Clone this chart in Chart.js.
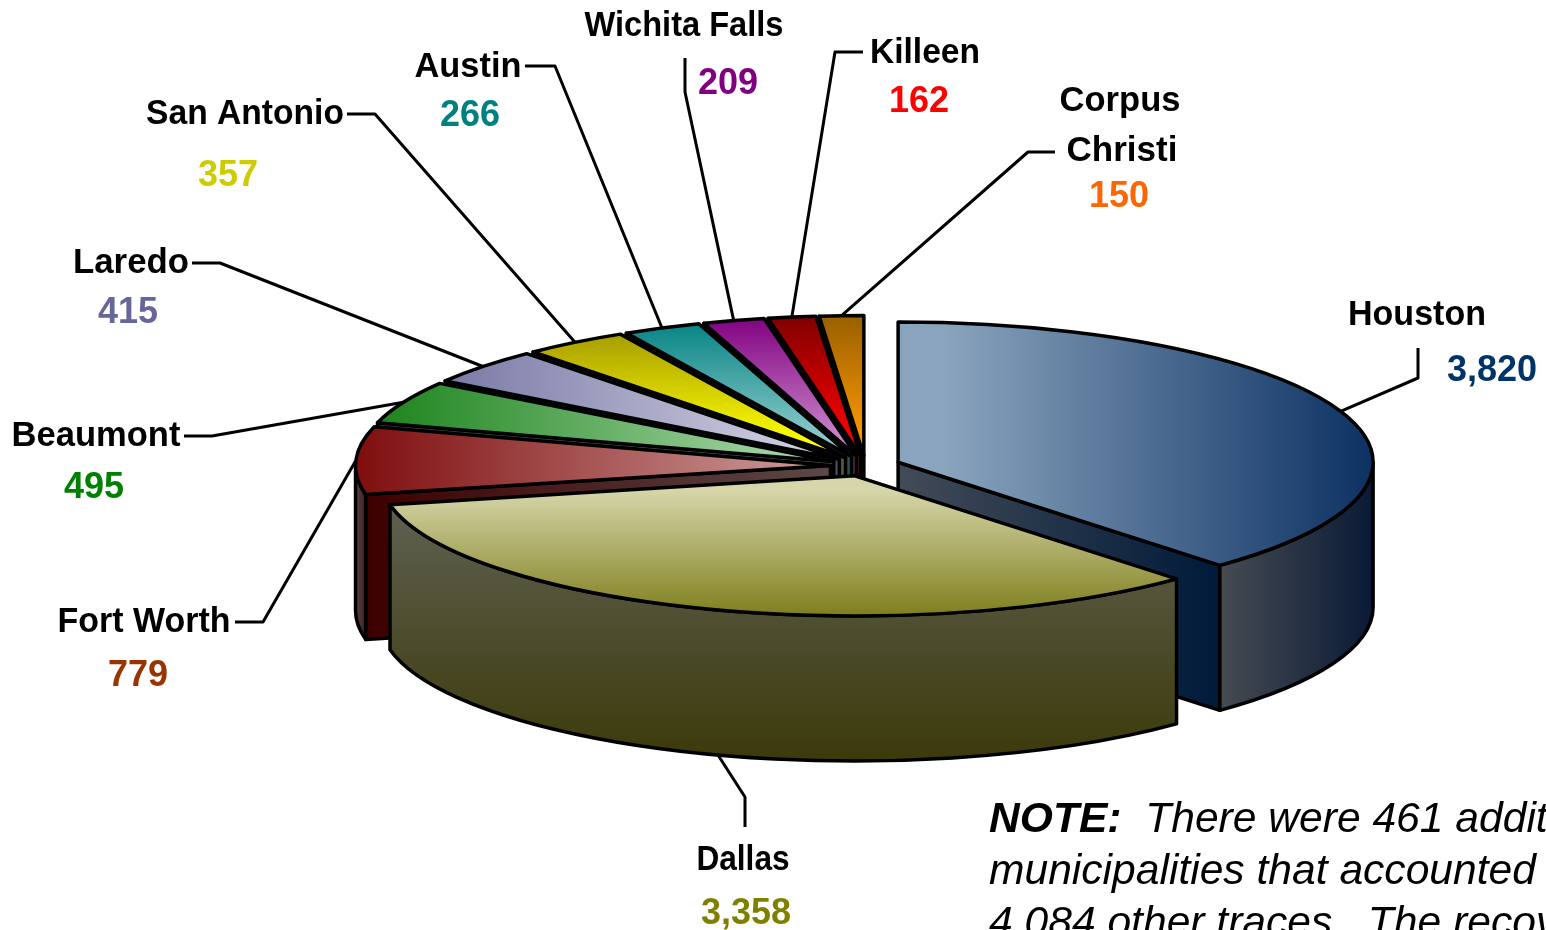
<!DOCTYPE html>
<html>
<head>
<meta charset="utf-8">
<title>Traces by municipality</title>
<script src="https://cdn.jsdelivr.net/npm/chart.js@4"></script>
<style>
    html, body { margin: 0; padding: 0; background: #fff; overflow: hidden; }
    canvas { display: block; }
</style>
</head>
<body>
<canvas id="chart" width="1546" height="930"></canvas>
<script>
const cities = ['Houston', 'Dallas', 'Fort Worth', 'Beaumont', 'Laredo', 'San Antonio', 'Austin', 'Wichita Falls', 'Killeen', 'Corpus Christi'];
const traces = [3820, 3358, 779, 495, 415, 357, 266, 209, 162, 150];
const valueLabels = ['3,820', '3,358', '779', '495', '415', '357', '266', '209', '162', '150'];
const valueColors = ['#003366', '#808000', '#993300', '#008000', '#666699', '#cccc00', '#008080', '#800080', '#ff0000', '#ff6600'];

// pseudo 3D look: pie squashed vertically, every slice pulled out, side walls below
const RADIUS = 475;
const SQUASH = 0.295;
const EXPLODE = 35;
const DEPTH = 145;
const LINE = 3.5;

// top face gradient: direction and colours (dark outer end, light inner end)
const topAxis = ['right', 'down', 'left', 'left', 'left', 'up', 'up', 'up', 'up', 'up'];
const topOuter = ['#0c3162', '#7f7f1e', '#7f0e0e', '#178017', '#66669a', '#998f00', '#008080', '#800080', '#800000', '#996000'];
const topInner = ['#8aa4be', '#d6d6aa', '#c89090', '#a4d4a4', '#ccccdf', '#ffff00', '#90cccc', '#cc88cc', '#ff0000', '#ff9900'];
// side colours: radial cut face and outer wall
const faceColors = [['#434b57', '#001a3a'], null, ['#3d0000', '#5c4848'], ['#3a4a3a', '#4a5a4a'], ['#44445c', '#55556a'], ['#4a4a20', '#555533'], ['#1f4a4a', '#2a5555'], ['#4a204a', '#553355'], ['#4a1010', '#552222'], ['#4a3000', '#553a11']];
const wallColors = [['#464b52', '#0a1a35'], ['#5f6052', '#3c3a0a'], ['#5e4044', '#3a2020'], null, null, null, null, null, null, null];
// back to front, so Dallas ends up on top of its neighbours
const drawOrder = [9, 8, 7, 6, 5, 4, 3, 2, 0, 1];

// label boxes: [text, centre x, baseline y, width]
const nameLabels = [
    [['Houston', 1417, 325, 138]],
    [['Dallas', 743, 870, 93]],
    [['Fort Worth', 144, 632, 173]],
    [['Beaumont', 96, 446, 169]],
    [['Laredo', 131, 273, 116]],
    [['San Antonio', 245, 124, 198]],
    [['Austin', 468, 77, 107]],
    [['Wichita Falls', 684, 36, 199]],
    [['Killeen', 925, 63, 110]],
    [['Corpus', 1120, 111, 121], ['Christi', 1122, 161, 112]]
];
const valuePositions = [[1492, 381], [746, 924], [138, 686], [94, 498], [128, 323], [228, 186], [470, 126], [728, 94], [919, 112], [1119, 207]];
// leader lines: the elbows, the first point comes from the slice itself
const leaderElbows = [
    [[1418, 378], [1418, 348]],
    [[745, 797], [745, 827]],
    [[263, 622], [235, 622]],
    [[212, 436], [184, 436]],
    [[220, 263], [192, 263]],
    [[375, 114], [347, 114]],
    [[555, 66], [525, 66]],
    [[685, 92], [685, 58]],
    [[835, 52], [863, 52]],
    [[1028, 152], [1055, 152]]
];
const leaderNudge = [0, -1, 0, 0, 0, 0, 0, 0, 0, 0];

const noteLines = [
    [['NOTE:', 'italic bold'], ['  There were 461 additional', 'italic']],
    [['municipalities that accounted for', 'italic']],
    [['4,084 other traces.  The recovery', 'italic']]
];
const noteBaselines = [832, 884, 936];

function sliceGradient(context) {
    if (context.dataIndex === undefined) return '#000';
    const chart = context.chart;
    const area = chart.chartArea;
    if (!area) return topInner[context.dataIndex];
    const cx = (area.left + area.right) / 2;
    const cy = (area.top + area.bottom) / 2;
    const i = context.dataIndex;
    let g;
    if (topAxis[i] === 'right') g = chart.ctx.createLinearGradient(cx + RADIUS, cy, cx, cy);
    else if (topAxis[i] === 'left') g = chart.ctx.createLinearGradient(cx - RADIUS, cy, cx, cy);
    else if (topAxis[i] === 'down') g = chart.ctx.createLinearGradient(cx, cy + RADIUS, cx, cy);
    else g = chart.ctx.createLinearGradient(cx, cy - RADIUS, cx, cy);
    g.addColorStop(0, topOuter[i]);
    g.addColorStop(0.9, topInner[i]);
    g.addColorStop(1, topInner[i]);
    return g;
}

// apex of a slice on screen, after the explosion
function sliceOrigin(arc) {
    const mid = (arc.startAngle + arc.endAngle) / 2;
    return {
        x: arc.x + Math.cos(mid) * EXPLODE,
        y: arc.y + Math.sin(mid) * EXPLODE * SQUASH
    };
}

function rimPoint(arc, angle, drop) {
    const o = sliceOrigin(arc);
    return {
        x: o.x + Math.cos(angle) * arc.outerRadius,
        y: o.y + Math.sin(angle) * arc.outerRadius * SQUASH + (drop || 0)
    };
}

function horizontalFill(ctx, from, to, colors) {
    const g = ctx.createLinearGradient(from, 0, to, 0);
    g.addColorStop(0, colors[0]);
    g.addColorStop(1, colors[1]);
    return g;
}

function finishShape(ctx, fill) {
    ctx.closePath();
    ctx.fillStyle = fill;
    ctx.fill();
    ctx.stroke();
}

function drawCutFace(ctx, arc, angle, colors) {
    const o = sliceOrigin(arc);
    const p = rimPoint(arc, angle);
    ctx.beginPath();
    ctx.moveTo(o.x, o.y);
    ctx.lineTo(p.x, p.y);
    ctx.lineTo(p.x, p.y + DEPTH);
    ctx.lineTo(o.x, o.y + DEPTH);
    finishShape(ctx, horizontalFill(ctx, Math.min(o.x, p.x), Math.max(o.x, p.x), colors));
}

function drawOuterWall(ctx, arc, index) {
    const a0 = Math.max(arc.startAngle, 0);
    const a1 = Math.min(arc.endAngle, Math.PI);
    if (a1 <= a0 || !wallColors[index]) return;
    const o = sliceOrigin(arc);
    const ry = arc.outerRadius * SQUASH;
    ctx.beginPath();
    ctx.ellipse(o.x, o.y, arc.outerRadius, ry, 0, a0, a1);
    ctx.ellipse(o.x, o.y + DEPTH, arc.outerRadius, ry, 0, a1, a0, true);
    let fill;
    if (index === 1) {
        fill = ctx.createLinearGradient(0, o.y + ry * 0.2, 0, o.y + ry + DEPTH);
        fill.addColorStop(0, wallColors[index][0]);
        fill.addColorStop(1, wallColors[index][1]);
    } else {
        const xs = [rimPoint(arc, a0).x, rimPoint(arc, a1).x];
        fill = horizontalFill(ctx, Math.min(...xs), Math.max(...xs), wallColors[index]);
    }
    finishShape(ctx, fill);
}

function drawTop(ctx, arc) {
    const o = sliceOrigin(arc);
    ctx.save();
    ctx.translate(o.x, o.y);
    ctx.scale(1, SQUASH);
    ctx.translate(-arc.x, -arc.y);
    arc.draw(ctx);
    // outline is stroked after restore, so the line keeps one width all around
    ctx.beginPath();
    ctx.moveTo(arc.x, arc.y);
    ctx.arc(arc.x, arc.y, arc.outerRadius, arc.startAngle, arc.endAngle);
    ctx.closePath();
    ctx.restore();
    ctx.stroke();
}

const fakePie3d = {
    id: 'fakePie3d',
    beforeDatasetDraw(chart) {
        const ctx = chart.ctx;
        const arcs = chart.getDatasetMeta(0).data;
        ctx.save();
        ctx.strokeStyle = '#000';
        ctx.lineJoin = 'round';

        // leader lines go first so the slice outline covers their start
        ctx.lineWidth = 3;
        arcs.forEach((arc, i) => {
            const mid = (arc.startAngle + arc.endAngle) / 2 + leaderNudge[i] * Math.PI / 180;
            const start = rimPoint(arc, mid, i === 1 ? DEPTH : 0);
            ctx.beginPath();
            ctx.moveTo(start.x, start.y);
            leaderElbows[i].forEach(p => ctx.lineTo(p[0], p[1]));
            ctx.stroke();
        });

        ctx.lineWidth = LINE;
        drawOrder.forEach(i => {
            const arc = arcs[i];
            if (faceColors[i]) {
                if (Math.cos(arc.startAngle) < 0) drawCutFace(ctx, arc, arc.startAngle, faceColors[i]);
                if (Math.cos(arc.endAngle) > 0) drawCutFace(ctx, arc, arc.endAngle, faceColors[i]);
            }
            drawOuterWall(ctx, arc, i);
        });
        drawOrder.forEach(i => drawTop(ctx, arcs[i]));
        ctx.restore();
        return false; // native drawing skipped, arcs were drawn above
    },
    afterDraw(chart) {
        const ctx = chart.ctx;
        ctx.save();
        ctx.textAlign = 'center';
        ctx.textBaseline = 'alphabetic';
        ctx.font = 'bold 35px "Liberation Sans", Arial, sans-serif';
        ctx.fillStyle = '#000';
        nameLabels.forEach(lines => {
            lines.forEach(l => ctx.fillText(l[0], l[1], l[2], l[3]));
        });
        ctx.font = 'bold 36px "Liberation Sans", Arial, sans-serif';
        valueLabels.forEach((text, i) => {
            ctx.fillStyle = valueColors[i];
            ctx.fillText(text, valuePositions[i][0], valuePositions[i][1]);
        });

        ctx.textAlign = 'left';
        ctx.fillStyle = '#000';
        noteLines.forEach((parts, row) => {
            let x = 989;
            parts.forEach(part => {
                ctx.font = part[1] + ' 42.6px "Liberation Sans", Arial, sans-serif';
                ctx.fillText(part[0], x, noteBaselines[row]);
                x += ctx.measureText(part[0]).width;
            });
        });
        ctx.restore();
    }
};

new Chart(document.getElementById('chart').getContext('2d'), {
    type: 'pie',
    data: {
        labels: cities,
        datasets: [{
            data: traces,
            backgroundColor: sliceGradient,
            borderWidth: 0,
            radius: RADIUS,
            clip: false
        }]
    },
    options: {
        responsive: false,
        animation: false,
        layout: { padding: { left: 185, top: 2 } },
        plugins: {
            legend: { display: false },
            tooltip: { enabled: false }
        }
    },
    plugins: [fakePie3d]
});
</script>
</body>
</html>
